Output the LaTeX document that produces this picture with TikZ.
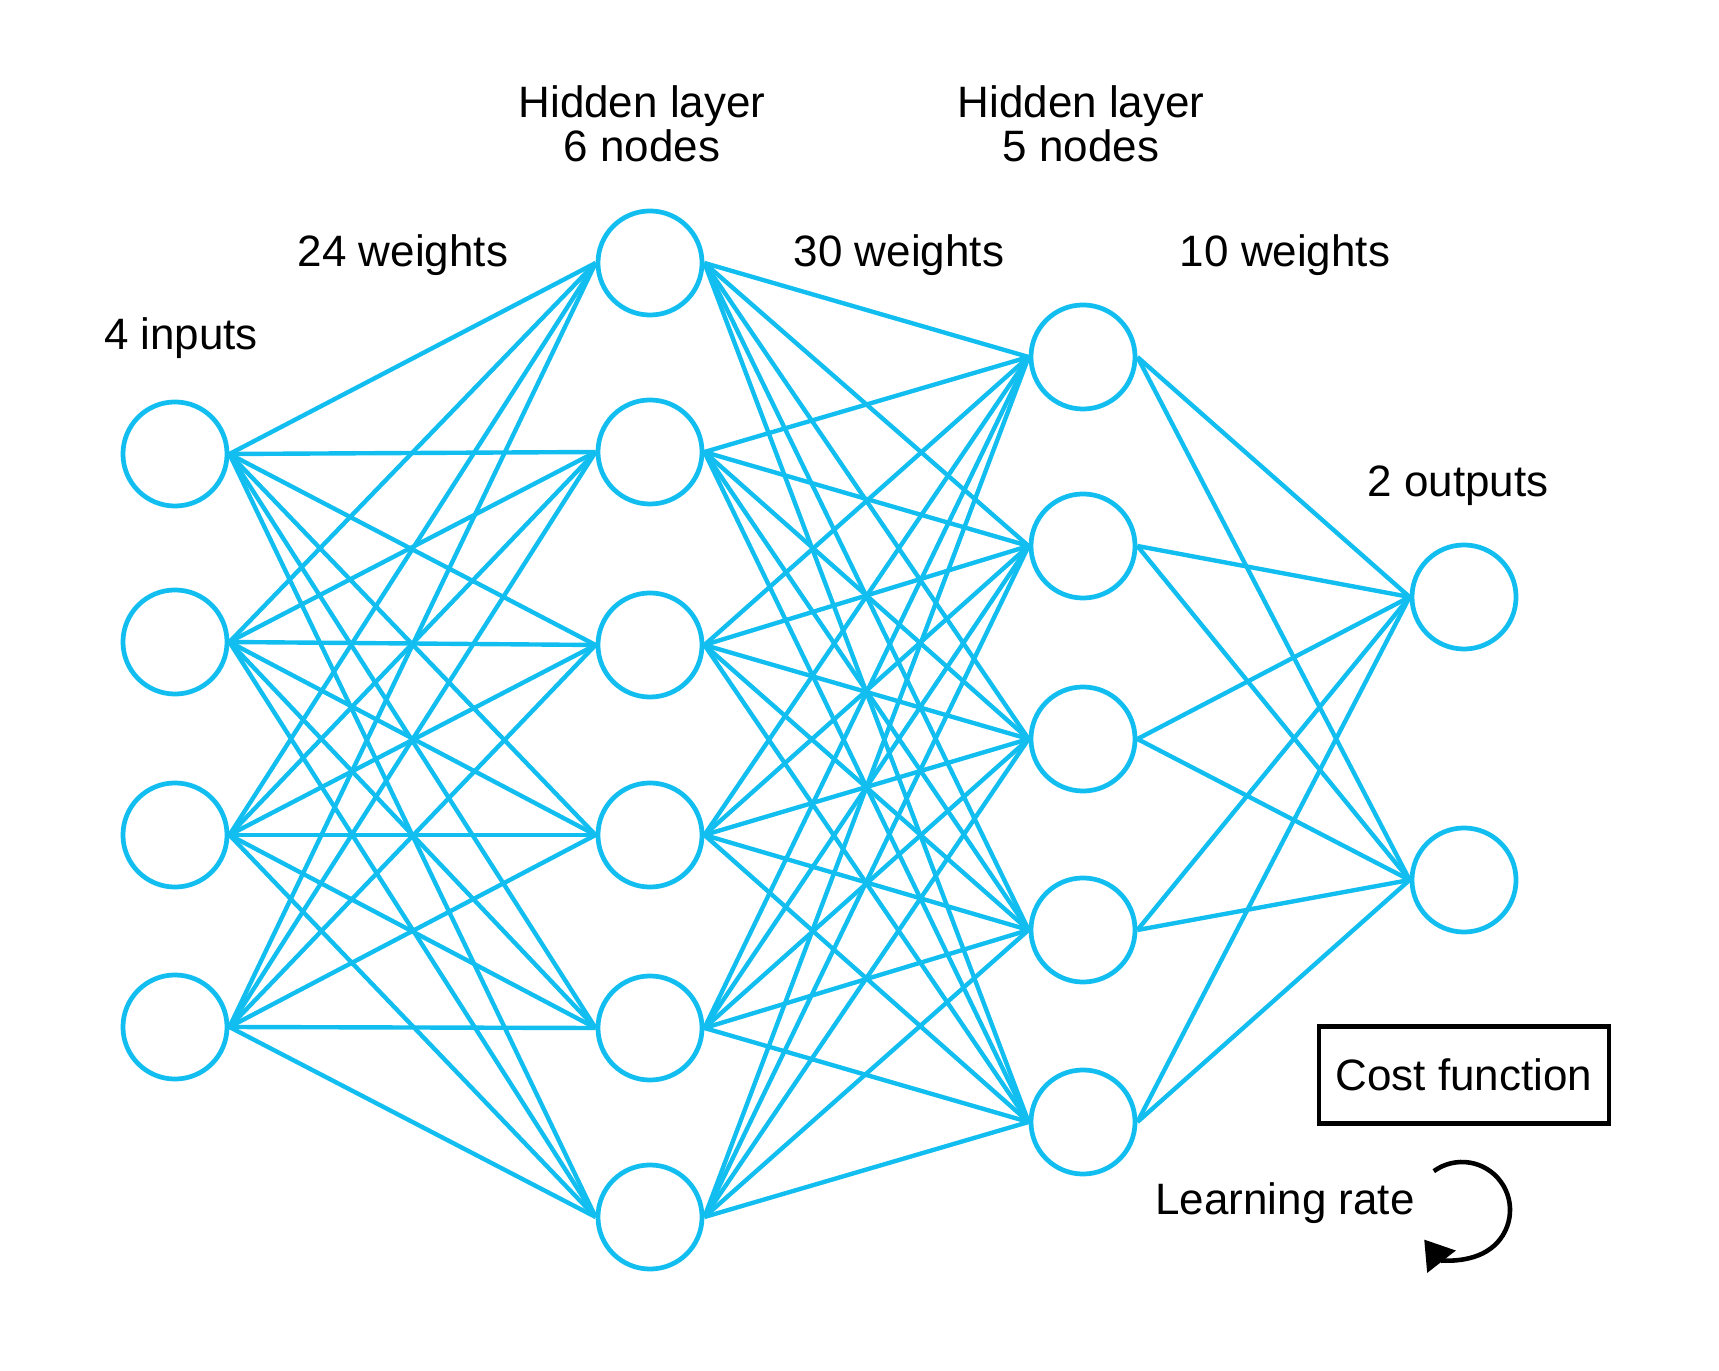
\documentclass[tikz,border=0pt]{standalone}
\usepackage{fontspec}
\setmainfont{Liberation Sans}
\usepackage{tikz}
\usetikzlibrary{arrows.meta}

\definecolor{netblue}{RGB}{18,190,240}

\begin{document}
\begin{tikzpicture}[x=0.01cm, y=-0.01cm,
    neuron/.style={draw=netblue, circle, line width=1.35pt, minimum size=1.04cm, inner sep=0pt},
    edge/.style={draw=netblue, line width=1.25pt},
    caption/.style={align=center, font=\fontsize{12.5}{12.5}\selectfont}]

    \useasboundingbox (0,0) rectangle (1719,1371);

    % Layers
    \foreach \y [count=\i] in {454,642,835,1027}
        \node [neuron] (I\i) at (175,\y) {};
    \foreach \y [count=\i] in {263,452,645,835,1028,1217}
        \node [neuron] (H\i) at (650,\y) {};
    \foreach \y [count=\i] in {357,546,739,930,1122}
        \node [neuron] (K\i) at (1083,\y) {};
    \foreach \y [count=\i] in {597,880}
        \node [neuron] (O\i) at (1464,\y) {};

    % Weights
    \foreach \i in {1,...,4} {
        \foreach \j in {1,...,6} {
            \draw [edge] (I\i.east) -- (H\j.west);
        }
    }
    \foreach \i in {1,...,6} {
        \foreach \j in {1,...,5} {
            \draw [edge] (H\i.east) -- (K\j.west);
        }
    }
    \foreach \i in {1,...,5} {
        \foreach \j in {1,2} {
            \draw [edge] (K\i.east) -- (O\j.west);
        }
    }

    % Labels
    \node [caption] (inputs) at (181,338) {4 inputs};
    \node [caption] (w1) at (403,255) {24 weights};
    \node [caption] (hid1) at (642,124) {Hidden layer\\6 nodes};
    \node [caption] (w2) at (899,255) {30 weights};
    \node [caption] (hid2) at (1081,124) {Hidden layer\\5 nodes};
    \node [caption] (w3) at (1285,255) {10 weights};
    \node [caption] (outputs) at (1458,486) {2 outputs};

    % Cost and learning rate
    \node [caption, draw, line width=1.3pt, minimum width=2.9cm, minimum height=0.97cm] (cost) at (1464,1075) {Cost function};
    \node [caption] (rate) at (1285,1203) {Learning rate};
    \coordinate (loop) at (1462,1210);
    \draw [line width=1.3pt, -{Triangle[length=8pt, width=10pt]}]
        ([shift={(-126:48)}]loop) arc [start angle=-126, end angle=142, radius=48];

\end{tikzpicture}
\end{document}
